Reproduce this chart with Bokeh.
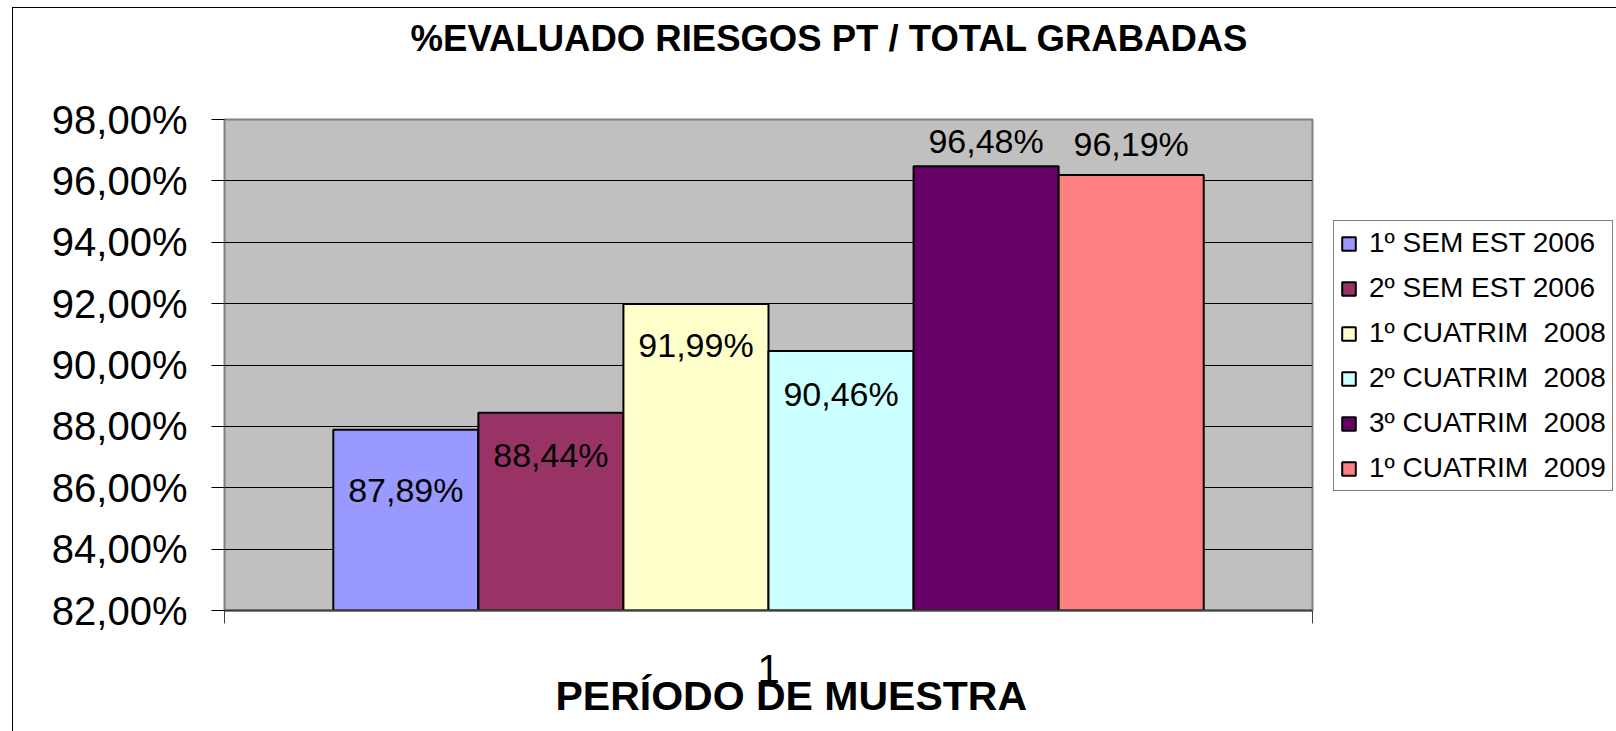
from bokeh.plotting import figure
from bokeh.models import (ColumnDataSource, Range1d, FixedTicker, Legend, LegendItem,
                          LinearAxis)
from bokeh.core.properties import value
from bokeh.embed import file_html
from bokeh.resources import INLINE

# ---------------- data ----------------
periods = ["1º SEM EST 2006", "2º SEM EST 2006", "1º CUATRIM  2008",
           "2º CUATRIM  2008", "3º CUATRIM  2008", "1º CUATRIM  2009"]
values = [87.89, 88.44, 91.99, 90.46, 96.48, 96.19]
value_labels = ["87,89%", "88,44%", "91,99%", "90,46%", "96,48%", "96,19%"]
colors = ["#9999FF", "#993366", "#FFFFCC", "#CCFFFF", "#660066", "#FF8080"]
y_ticks = [82, 84, 86, 88, 90, 92, 94, 96, 98]
y_tick_labels = ["82,00%", "84,00%", "86,00%", "88,00%", "90,00%",
                 "92,00%", "94,00%", "96,00%", "98,00%"]
x_category_label = "1"
title_text = "%EVALUADO RIESGOS PT / TOTAL GRABADAS"
x_axis_title = "PERÍODO DE MUESTRA"

# ---------------- layout / style ----------------
FONT = "Liberation Sans"
label_offsets = [60, 42, 41, 43, -25, -31]   # px, + below bar top
NB = "\u00a0"

src = ColumnDataSource(dict(
    x=list(range(len(values))), top=values, color=colors, period=periods,
    lab=value_labels, yoff=label_offsets))

p = figure(frame_width=1088, frame_height=491, output_backend="svg", toolbar_location=None,
           x_range=Range1d(-1.25, 6.25), y_range=Range1d(82, 98),
           min_border_left=224, min_border_right=304,
           min_border_top=119, min_border_bottom=121)
p.background_fill_color = "#C0C0C0"
p.border_fill_alpha = 0.0
p.outline_line_color = "#808080"
p.outline_line_width = 2
# outer chart border (left and top edges visible in the window)
p.styles = {
    "background-color": "white",
    "background-image": "linear-gradient(black, black), linear-gradient(black, black)",
    "background-size": "1px 2000px, 2000px 1px",
    "background-position": "12px 7px, 12px 7px",
    "background-repeat": "no-repeat",
    "overflow": "hidden",
}

bars = p.vbar(x="x", top="top", bottom=82, width=1.0, source=src,
              fill_color="color", line_color="black", line_width=2)

p.text(x="x", y="top", text="lab", y_offset="yoff", source=src,
       text_font=value(FONT), text_font_size="34px", text_align="center",
       text_baseline="middle", text_color="black")

# grid
p.xgrid.visible = False
p.ygrid.ticker = FixedTicker(ticks=y_ticks)
p.ygrid.grid_line_color = "black"
p.ygrid.grid_line_width = 1

# y axis
ya = p.yaxis[0]
ya.ticker = FixedTicker(ticks=y_ticks)
ya.major_label_overrides = {t: l for t, l in zip(y_ticks, y_tick_labels)}
ya.major_label_text_font = FONT
ya.major_label_text_font_size = "40px"
ya.major_label_text_color = "black"
ya.major_tick_out = 13
ya.major_tick_in = 0
ya.major_tick_line_color = "black"
ya.minor_tick_line_color = None
ya.axis_line_color = None
ya.major_label_standoff = 24

# x axis
xa = p.xaxis[0]
xa.ticker = FixedTicker(ticks=[2.5], minor_ticks=[-1.25, 6.25])
xa.major_label_overrides = {2.5: x_category_label}
xa.major_label_text_font = FONT
xa.major_label_text_font_size = "40px"
xa.major_label_text_color = "black"
xa.major_tick_line_color = None
xa.major_tick_out = 0
xa.major_tick_in = 0
xa.minor_tick_out = 13
xa.minor_tick_in = 0
xa.minor_tick_line_color = "#404040"
xa.axis_line_color = "#404040"
xa.axis_line_width = 2
xa.major_label_standoff = 31
xa.axis_label = NB * 4 + x_axis_title
xa.axis_label_text_font = FONT
xa.axis_label_text_font_size = "41px"
xa.axis_label_text_font_style = "bold"
xa.axis_label_text_color = "black"
xa.axis_label_standoff = -13

# chart title, carried by a bare axis above the plot area
ta = LinearAxis(ticker=FixedTicker(ticks=[]))
ta.axis_line_color = None
ta.major_tick_line_color = None
ta.minor_tick_line_color = None
ta.major_tick_out = 0
ta.major_tick_in = 0
ta.minor_tick_out = 0
ta.major_label_standoff = 0
ta.axis_label = NB * 12 + title_text
ta.axis_label_text_font = FONT
ta.axis_label_text_font_size = "36.5px"
ta.axis_label_text_font_style = "bold"
ta.axis_label_text_color = "black"
ta.axis_label_standoff = 61
p.add_layout(ta, "above")

# legend
items = [LegendItem(label=periods[i], renderers=[bars], index=i) for i in range(len(periods))]
legend = Legend(items=items, location=(21, 119), orientation="vertical",
                label_text_font=FONT, label_text_font_size="28px",
                label_text_color="black", glyph_width=17, glyph_height=17,
                label_standoff=12, spacing=13, padding=6, margin=0,
                border_line_color="black", border_line_width=1,
                background_fill_color="white", background_fill_alpha=1.0)
p.add_layout(legend, "right")

open("out.html", "w").write(file_html(p, INLINE))
